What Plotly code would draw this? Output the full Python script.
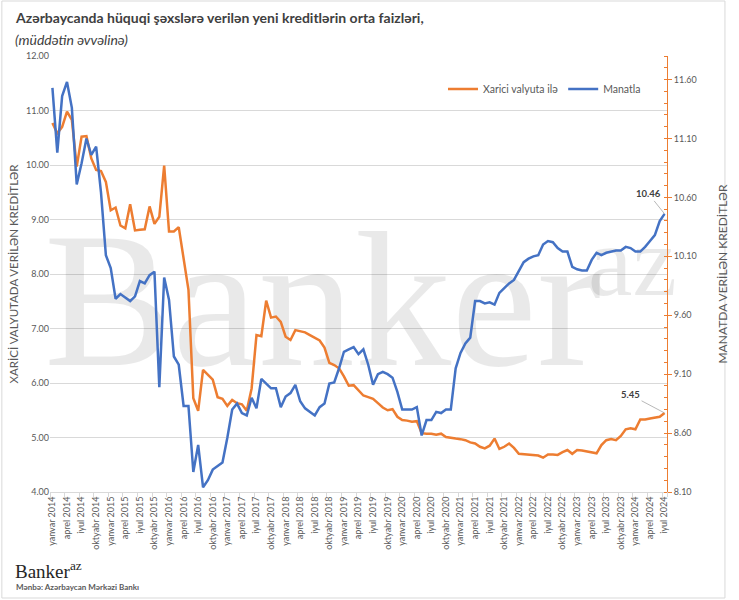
import plotly.graph_objects as go

MONTHS = ["yanvar", "fevral", "mart", "aprel", "may", "iyun", "iyul",
          "avqust", "sentyabr", "oktyabr", "noyabr", "dekabr"]
periods = [f"{MONTHS[m]} {y}" for y in range(2014, 2025) for m in range(12)][:127]

xarici = [10.77, 10.58, 10.70, 10.98, 10.83, 9.97, 10.52, 10.53, 10.12, 9.91,
          9.89, 9.69, 9.17, 9.22, 8.89, 8.84, 9.28, 8.80, 8.81, 8.82,
          9.24, 8.92, 9.05, 9.99, 8.78, 8.78, 8.86, 8.26, 7.71, 5.72,
          5.49, 6.24, 6.15, 6.06, 5.74, 5.71, 5.58, 5.69, 5.63, 5.61,
          5.49, 5.90, 6.88, 6.86, 7.51, 7.20, 7.22, 7.12, 6.85, 6.79,
          6.97, 6.95, 6.93, 6.88, 6.83, 6.78, 6.65, 6.37, 6.33, 6.27,
          6.12, 5.95, 5.96, 5.86, 5.77, 5.74, 5.71, 5.63, 5.55, 5.50,
          5.52, 5.38, 5.32, 5.31, 5.29, 5.30, 5.08, 5.07, 5.07, 5.05,
          5.07, 5.01, 4.99, 4.98, 4.97, 4.95, 4.91, 4.89, 4.83, 4.80,
          4.85, 4.98, 4.79, 4.83, 4.89, 4.81, 4.70, 4.69, 4.69, 4.68,
          4.67, 4.63, 4.69, 4.69, 4.68, 4.73, 4.77, 4.70, 4.77, 4.76,
          4.74, 4.73, 4.71, 4.86, 4.95, 4.97, 4.95, 5.03, 5.15, 5.17,
          5.15, 5.33, 5.33, 5.35, 5.37, 5.38, 5.45]

manatla = [11.53, 10.98, 11.46, 11.58, 11.36, 10.71, 10.89, 11.10, 10.96, 11.03,
           10.64, 10.11, 10.00, 9.74, 9.78, 9.75, 9.72, 9.76, 9.89, 9.87,
           9.94, 9.97, 8.99, 9.92, 9.73, 9.25, 9.18, 8.83, 8.83, 8.27,
           8.50, 8.14, 8.20, 8.29, 8.32, 8.35, 8.56, 8.80, 8.85, 8.77,
           8.75, 8.90, 8.81, 9.06, 9.02, 8.98, 8.98, 8.82, 8.91, 8.94,
           9.01, 8.87, 8.81, 8.78, 8.75, 8.82, 8.85, 9.02, 9.03, 9.15,
           9.29, 9.31, 9.33, 9.27, 9.31, 9.18, 9.01, 9.10, 9.12, 9.10,
           9.07, 8.95, 8.80, 8.80, 8.80, 8.82, 8.58, 8.71, 8.71, 8.78,
           8.77, 8.80, 8.80, 9.15, 9.28, 9.36, 9.41, 9.72, 9.72, 9.70,
           9.71, 9.69, 9.79, 9.83, 9.87, 9.90, 9.97, 10.05, 10.08, 10.10,
           10.11, 10.20, 10.23, 10.22, 10.17, 10.14, 10.14, 10.01, 9.99, 9.98,
           9.98, 10.07, 10.13, 10.11, 10.13, 10.14, 10.15, 10.15, 10.18, 10.17,
           10.14, 10.14, 10.18, 10.23, 10.28, 10.40, 10.46]

left_ticks = [4, 5, 6, 7, 8, 9, 10, 11, 12]
right_ticks = [8.10, 8.60, 9.10, 9.60, 10.10, 10.60, 11.10, 11.60]

idx = list(range(len(periods)))
label_idx = idx[::3]
label_txt = [periods[i] for i in label_idx]

ORANGE = "#ED7D31"
BLUE = "#4472C4"
GRAY = "#595959"
DARK = "#404040"
WM = "rgba(0,0,0,0.085)"

# plot-area pixel frame, used to place paper-referenced text
PL, PR, PT, PB = 50, 678, 56, 492
def fx(px):
    return (px - PL) / (PR - PL)
def fy(py):
    return (PB - py) / (PB - PT)

fig = go.Figure()

# watermark (drawn first so the series sit on top of it)
fig.add_trace(go.Scatter(
    x=[55.6], y=[7.22], mode="text", text=["Banker"], textposition="middle center",
    textfont=dict(family="Liberation Serif", size=193, color=WM),
    showlegend=False, hoverinfo="skip", cliponaxis=False))
fig.add_trace(go.Scatter(
    x=[119.4], y=[8.08], mode="text", text=["az"], textposition="middle center",
    textfont=dict(family="Liberation Serif", size=100, color=WM),
    showlegend=False, hoverinfo="skip", cliponaxis=False))

fig.add_trace(go.Scatter(
    x=idx, y=xarici, mode="lines", name="Xarici valyuta ilə",
    line=dict(color=ORANGE, width=2.5), yaxis="y"))
fig.add_trace(go.Scatter(
    x=idx, y=manatla, mode="lines", name="Manatla",
    line=dict(color=BLUE, width=2.5), yaxis="y2"))

fig.update_layout(
    width=739, height=600,
    margin=dict(l=PL, r=739 - PR, t=PT, b=600 - PB),
    paper_bgcolor="white", plot_bgcolor="white",
    font=dict(family="Lato", color=GRAY),
    showlegend=True,
    legend=dict(orientation="h", x=fx(450), y=fy(89), xanchor="left", yanchor="middle",
                font=dict(size=10.5, color=GRAY), bgcolor="rgba(0,0,0,0)",
                itemwidth=30, tracegroupgap=0),
    xaxis=dict(range=[-0.5, len(periods) - 0.5], tickmode="array",
               tickvals=label_idx, ticktext=label_txt, tickangle=-90,
               tickfont=dict(size=9, color=GRAY), showgrid=False,
               showline=True, linecolor="#d9d9d9", linewidth=1, ticks="",
               minor=dict(tickmode="array",
                          tickvals=[i - 0.5 for i in label_idx] + [len(periods) - 0.5],
                          ticks="outside", ticklen=4, tickcolor="#d9d9d9", showgrid=False),
               zeroline=False),
    yaxis=dict(range=[4, 12], tickmode="array", tickvals=left_ticks, tickformat=".2f",
               tickfont=dict(size=9, color=GRAY), gridcolor="#d9d9d9", gridwidth=1,
               showline=False, zeroline=False, ticks="",
               title=dict(text="XARİCİ VALYUTADA VERİLƏN KREDİTLƏR",
                          font=dict(size=11.5, color=GRAY), standoff=4)),
    yaxis2=dict(range=[8.1, 11.8], overlaying="y", side="right", tickmode="array",
                tickvals=right_ticks, tickformat=".2f",
                tickfont=dict(size=9, color=GRAY), showgrid=False, zeroline=False,
                showline=True, linecolor=ORANGE, linewidth=1,
                ticks="outside", ticklen=4, tickcolor=ORANGE,
                minor=dict(tickmode="linear", tick0=8.1, dtick=0.1, ticks="inside",
                           ticklen=3, tickcolor=ORANGE, showgrid=False),
                title=dict(text="MANATDA VERİLƏN KREDİTLƏR",
                           font=dict(size=12, color=GRAY), standoff=22)),
)

fig.add_annotation(x=fx(12), y=fy(18), xref="paper", yref="paper", xanchor="left",
                   yanchor="middle", showarrow=False,
                   text="<b>Azərbaycanda hüquqi şəxslərə verilən yeni kreditlərin orta faizləri,</b>",
                   font=dict(family="Lato", size=14, color=DARK))
fig.add_annotation(x=fx(12), y=fy(39), xref="paper", yref="paper", xanchor="left",
                   yanchor="middle", showarrow=False, text="<i>(müddətin əvvəlinə)</i>",
                   font=dict(family="Lato", size=14, color=DARK))

fig.add_annotation(x=idx[-1], y=manatla[-1], xref="x", yref="y2",
                   text=f"<b>{manatla[-1]:.2f}</b>", showarrow=True, arrowhead=0,
                   arrowwidth=0.8, arrowcolor="#a6a6a6", ax=-16, ay=-20,
                   font=dict(size=9.5, color=DARK))
fig.add_annotation(x=idx[-1], y=xarici[-1], xref="x", yref="y",
                   text=f"<b>{xarici[-1]:.2f}</b>", showarrow=True, arrowhead=0,
                   arrowwidth=0.8, arrowcolor="#a6a6a6", ax=-34, ay=-18,
                   font=dict(size=9.5, color=DARK))

fig.add_annotation(x=fx(12), y=fy(570), xref="paper", yref="paper", xanchor="left",
                   yanchor="middle", showarrow=False, text="Banker<sup>az</sup>",
                   font=dict(family="Liberation Serif", size=19, color="#262626"))
fig.add_annotation(x=fx(13), y=fy(587), xref="paper", yref="paper", xanchor="left",
                   yanchor="middle", showarrow=False,
                   text="<b>Mənbə: Azərbaycan Mərkəzi Bankı</b>",
                   font=dict(family="Lato", size=8, color=GRAY))

fig.add_shape(type="rect", xref="paper", yref="paper",
              x0=fx(1), x1=fx(737), y0=fy(598), y1=fy(1),
              line=dict(color="#d9d9d9", width=1), layer="below")

fig.write_html("out.html")
